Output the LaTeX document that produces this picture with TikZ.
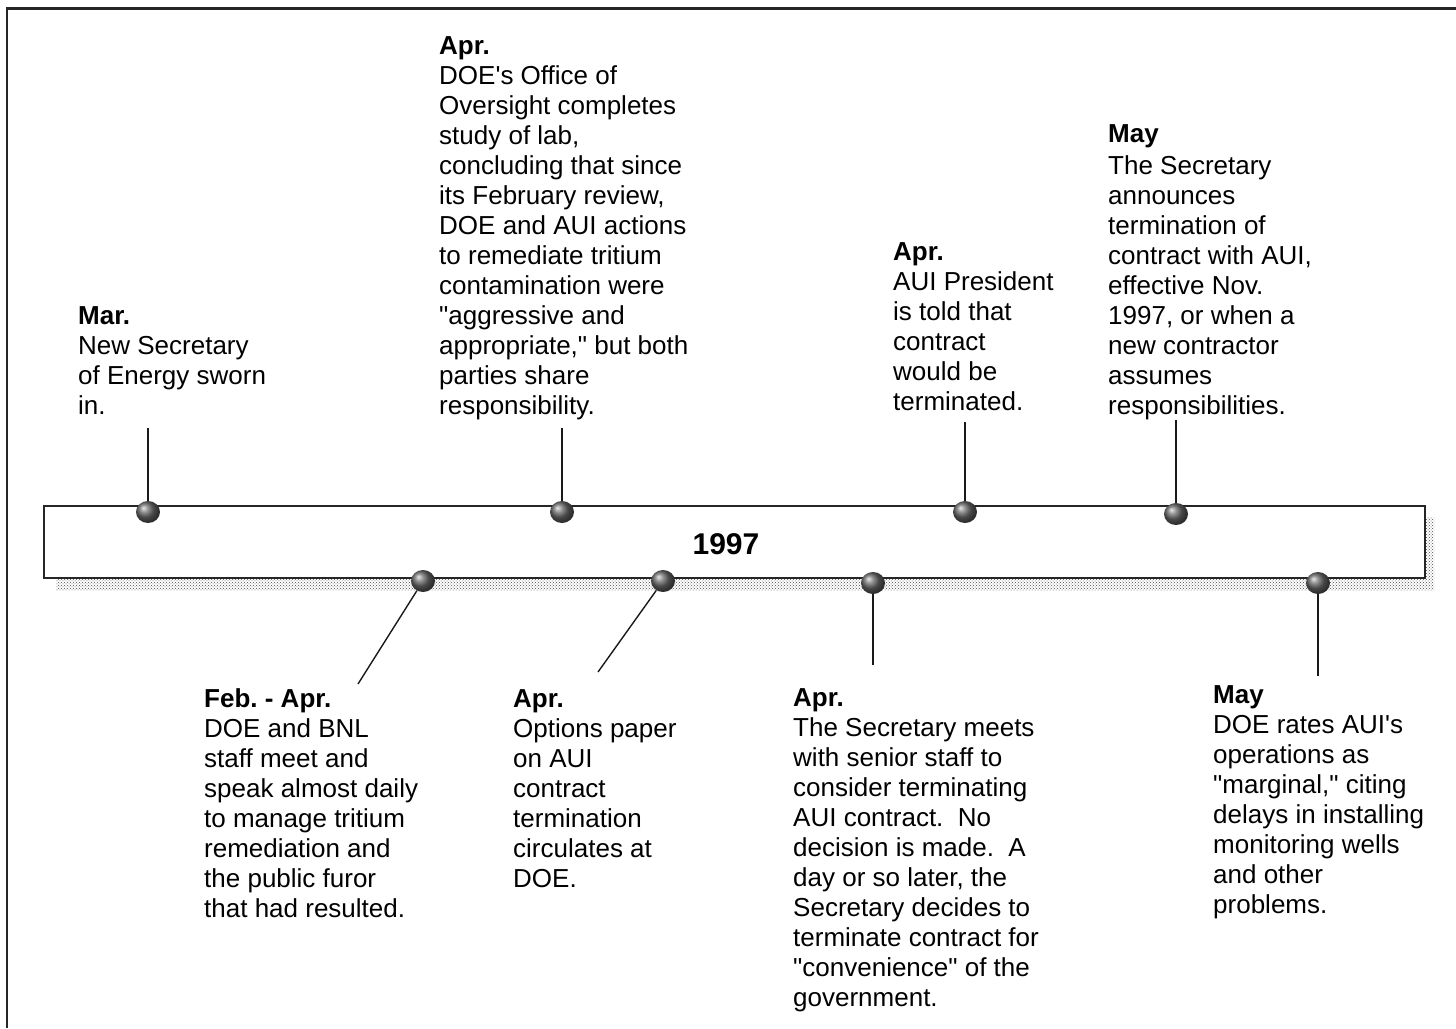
\documentclass[tikz,border=0pt]{standalone}
\usepackage{fontspec}
\newfontfamily\arialf{Liberation Sans}
\usetikzlibrary{patterns,shapes.geometric}
\frenchspacing
\tikzset{
  txt/.style={anchor=base west, inner sep=0pt, align=left, font=\arialf\fontsize{26}{30}\selectfont},
  ballnode/.style={ellipse, minimum width=24pt, minimum height=22pt, inner sep=0pt, shading=ball, ball color=black!60},
  stem/.style={line width=1.4pt, black!90},
}
\begin{document}
\begin{tikzpicture}[x=1pt,y=-1pt]
\useasboundingbox (0,0) rectangle (1456,1028);
% frame
\draw[line width=2.5pt, black!85] (7,1028) -- (7,8.5) -- (1456,8.5);
% bar with shadow
\fill[pattern=crosshatch dots, pattern color=black!70] (56,517) rectangle (1434,590);
\node[draw=black!85, fill=white, line width=2pt, minimum width=1381pt, minimum height=72pt, inner sep=0pt] (bar) at (734.5,542) {};
\node[anchor=base, inner sep=0pt, font=\arialf\fontsize{30}{34}\selectfont\bfseries] (yr) at (726,554) {1997};
% balls
\node[ballnode] (b1) at (148,512) {};
\node[ballnode] (b2) at (562,512) {};
\node[ballnode] (b3) at (965,512) {};
\node[ballnode] (b4) at (1176,514) {};
\node[ballnode] (b5) at (423,581) {};
\node[ballnode] (b6) at (663,581) {};
\node[ballnode] (b7) at (873,583) {};
\node[ballnode] (b8) at (1318,583) {};
% stem ends
\coordinate (s1) at (148,428);
\coordinate (s2) at (562,428);
\coordinate (s3) at (965,422);
\coordinate (s4) at (1176,420);
\coordinate (s5) at (358,684);
\coordinate (s6) at (598,672);
\coordinate (s7) at (873,665);
\coordinate (s8) at (1318,676);
\foreach \i in {1,...,8} {\draw[stem] (s\i) -- (b\i);}
% texts (anchored at the baseline of their last line)
\node[txt] (t1) at (78,414) {\textbf{Mar.}\\New Secretary\\of Energy sworn\\in.};
\node[txt] (t2) at (439,414) {\textbf{Apr.}\\DOE's Office of\\Oversight completes\\study of lab,\\concluding that since\\its February review,\\DOE and AUI actions\\to remediate tritium\\contamination were\\"aggressive and\\appropriate," but both\\parties share\\responsibility.};
\node[txt] (t3) at (893,410) {\textbf{Apr.}\\AUI President\\is told that\\contract\\would be\\terminated.};
\node[txt] (t4) at (1108,414) {\textbf{May}\\[2pt]The Secretary\\announces\\termination of\\contract with AUI,\\effective Nov.\\1997, or when a\\new contractor\\assumes\\responsibilities.};
\node[txt] (t5) at (204,917) {\textbf{Feb. - Apr.}\\DOE and BNL\\staff meet and\\speak almost daily\\to manage tritium\\remediation and\\the public furor\\that had resulted.};
\node[txt] (t6) at (513,887) {\textbf{Apr.}\\Options paper\\on AUI\\contract\\termination\\circulates at\\DOE.};
\node[txt] (t7) at (793,1006) {\textbf{Apr.}\\The Secretary meets\\with senior staff to\\consider terminating\\AUI contract.~ No\\decision is made.~ A\\day or so later, the\\Secretary decides to\\terminate contract for\\"convenience" of the\\government.};
\node[txt] (t8) at (1213,913) {\textbf{May}\\DOE rates AUI's\\operations as\\"marginal," citing\\delays in installing\\monitoring wells\\and other\\problems.};
\end{tikzpicture}
\end{document}
